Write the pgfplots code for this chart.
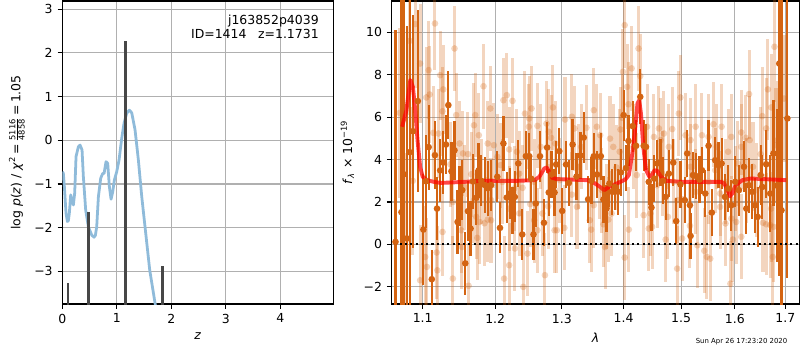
\documentclass[border=0pt]{standalone}
\usepackage{amsmath}
\usepackage{pgfplots}
\usepackage{pgfplotstable}
\pgfplotsset{compat=1.18}
\usepackage{fontspec}
\setmainfont{DejaVu Sans}
\definecolor{orD}{RGB}{212,100,18}
\definecolor{gridc}{RGB}{176,176,176}
\definecolor{blueL}{RGB}{143,187,218}

\pgfplotstableread{
l f e
1.0647 0.12 10
1.0723 1.52 10
1.0753 3.31 10
1.0796 0.28 10
1.0830 4.35 8
1.0872 5.34 5.5
1.0936 6.76 4.3
1.1009 0.70 2.6
1.1042 2.98 2.2
1.1079 4.59 2.0
1.1121 -1.64 1.4
1.1163 4.21 1.6
1.1191 1.69 1.5
1.1233 3.49 1.5
1.1274 3.86 1.5
1.1312 4.71 1.4
1.1344 6.57 1.6
1.1386 3.45 1.4
1.1428 4.44 1.4
1.1470 1.06 1.5
1.1498 2.29 1.4
1.1535 2.56 1.4
1.1577 -0.89 1.5
1.1614 1.57 1.4
1.1651 0.75 1.3
1.1684 2.97 1.3
1.1730 2.2 1.3
1.1763 3.49 1.3
1.1800 3.0 1.2
1.1851 2.8 1.3
1.1893 2.65 1.3
1.1940 2.8 1.2
1.2030 3.19 1.2
1.2069 0.78 1.2
1.2119 4.76 1.3
1.2168 2.21 1.2
1.2213 2.4 1.2
1.2250 1.6 1.1
1.2287 2.24 1.2
1.2337 3.82 1.1
1.2396 0.47 1.2
1.2450 4.16 1.2
1.2500 4.16 1.1
1.2530 3.1 1.1
1.2564 0.47 1.2
1.2599 1.93 1.1
1.2663 4.16 1.2
1.2723 1.02 1.1
1.2772 4.57 1.2
1.2797 2.45 1.1
1.2840 3.3 1.1
1.2886 2.45 1.1
1.2911 3.77 1.1
1.2960 4.4 1.1
1.3005 1.58 1.1
1.3065 3.77 1.1
1.3110 2.9 1.1
1.3168 4.71 1.2
1.3230 3.2 1.1
1.3292 4.19 1.1
1.3346 5.04 1.2
1.3416 2.13 1.1
1.3470 3.0 1.1
1.3508 4.16 1.1
1.3560 3.3 1.1
1.3622 4.16 1.1
1.3665 2.12 1.1
1.3715 1.7 1.1
1.3762 2.87 1.1
1.3811 2.48 1.1
1.3854 2.71 1.1
1.3908 2.48 1.1
1.3955 3.4 1.1
1.4000 6.1 1.2
1.4040 3.6 1.1
1.4082 4.88 1.2
1.4153 5.58 1.2
1.4212 4.65 1.2
1.4282 6.96 1.3
1.4341 4.65 1.2
1.4382 4.6 1.1
1.4429 2.95 1.1
1.4476 1.74 1.1
1.4525 3.1 1.1
1.4576 3.82 1.1
1.4635 3.86 1.1
1.4680 3.0 1.1
1.4724 2.24 1.1
1.4782 3.34 1.1
1.4859 3.86 1.1
1.4912 1.1 1.1
1.4988 2.83 1.1
1.5067 2.09 1.1
1.5110 4.29 1.1
1.5160 1.85 1.1
1.5172 0.4 1.1
1.5215 3.27 1.1
1.5276 3.22 1.1
1.5337 3.06 1.1
1.5380 3.5 1.1
1.5442 2.4 1.1
1.5503 4.65 1.2
1.5564 1.5 1.1
1.5626 3.97 1.1
1.5687 3.74 1.1
1.5748 3.82 1.2
1.5810 2.24 1.1
1.5871 2.64 1.1
1.5933 1.85 1.2
1.6007 2.95 1.2
1.6078 2.56 1.2
1.6176 3.66 1.2
1.6222 1.69 1.2
1.6275 2.79 1.3
1.6333 2.48 1.3
1.6392 1.85 1.3
1.6444 1.3 1.4
1.6503 3.27 1.4
1.6536 2.71 1.5
1.6614 3.78 1.6
1.6693 2.4 1.8
1.6758 4.29 2.5
1.6824 2.78 3.6
1.6876 8.53 10
1.6922 1.61 10
1.7041 5.94 7.5
}\dark

\pgfplotstableread{
l f e
1.0700 6.2 4.0
1.0760 0.3 4.0
1.0830 9.6 3.5
1.0870 3.0 3.5
1.0902 10.39 3.0
1.0966 8.53 2.8
1.0966 -1.69 2.6
1.1033 -0.59 2.4
1.1047 6.93 2.4
1.1056 -1.06 2.3
1.1079 8.22 2.3
1.1093 7.07 2.3
1.1140 5.26 2.2
1.1163 10.42 2.2
1.1186 -0.38 2.2
1.1195 -1.22 2.1
1.1209 5.23 2.1
1.1233 7.98 2.1
1.1265 6.28 2.1
1.1265 0.59 2.1
1.1274 7.31 2.1
1.1372 3.78 2.0
1.1405 -1.61 2.0
1.1405 2.0 2.0
1.1428 9.24 2.0
1.1451 6.1 2.0
1.1498 4.76 2.0
1.1521 0.67 2.0
1.1530 -0.12 2.0
1.1544 4.29 2.0
1.1567 2.7 2.0
1.1614 4.26 2.0
1.1623 -1.95 2.0
1.1660 3.31 2.0
1.1698 5.62 2.0
1.1698 2.09 2.0
1.1716 6.1 2.0
1.1730 1.3 2.0
1.1744 0.31 2.0
1.1767 5.15 2.0
1.1777 1.06 2.0
1.1800 2.95 2.0
1.1833 7.46 2.0
1.1847 1.0 2.0
1.1893 4.76 2.0
1.1893 1.17 2.0
1.1930 6.41 2.0
1.1940 1.14 2.0
1.1940 2.09 2.0
1.1981 4.68 2.0
1.2030 4.13 2.0
1.2079 3.74 2.0
1.2104 2.95 2.0
1.2119 6.8 2.0
1.2129 -1.61 2.0
1.2168 7.04 2.0
1.2203 4.48 2.0
1.2203 1.69 2.0
1.2203 -0.98 2.0
1.2252 6.77 2.0
1.2277 2.64 2.0
1.2287 -0.19 2.0
1.2317 4.37 2.0
1.2351 3.34 2.0
1.2351 1.46 2.0
1.2401 2.67 2.0
1.2411 -2.0 2.0
1.2436 6.17 2.0
1.2475 -0.43 2.0
1.2495 5.55 2.0
1.2500 5.94 2.0
1.2515 1.9 2.0
1.2535 6.41 2.0
1.2574 1.14 2.0
1.2574 2.95 2.0
1.2624 5.59 2.0
1.2624 0.67 2.0
1.2673 4.6 2.0
1.2698 1.46 2.0
1.2738 -1.45 2.0
1.2762 5.7 2.0
1.2787 1.8 2.0
1.2797 5.31 2.0
1.2832 5.03 2.0
1.2861 6.46 2.0
1.2886 0.67 2.0
1.2896 4.76 2.0
1.2921 0.67 2.0
1.2970 3.03 2.0
1.3038 0.78 2.0
1.3049 5.89 2.0
1.3157 6.02 2.0
1.3157 2.35 2.0
1.3200 5.47 2.0
1.3238 1.77 2.0
1.3265 3.66 2.0
1.3303 4.6 2.0
1.3389 5.5 2.0
1.3443 1.14 2.0
1.3465 0.7 2.0
1.3508 6.33 2.0
1.3508 1.85 2.0
1.3557 5.55 2.0
1.3600 3.19 2.0
1.3611 5.15 2.0
1.3638 2.56 2.0
1.3665 0.95 2.0
1.3692 -0.12 2.0
1.3708 1.77 2.0
1.3746 1.17 2.0
1.3773 4.99 2.0
1.3800 1.46 2.0
1.3827 4.6 2.0
1.3881 3.63 2.0
1.3935 4.37 2.0
1.3946 5.42 2.0
1.3978 5.97 2.0
1.3989 8.14 2.0
1.4018 10.34 2.0
1.4018 -0.62 2.0
1.4059 7.43 2.0
1.4082 6.61 2.0
1.4088 0.7 2.0
1.4135 8.3 2.0
1.4165 4.6 2.0
1.4224 3.27 2.0
1.4253 9.24 2.0
1.4282 7.94 2.0
1.4341 1.38 2.0
1.4400 5.55 2.0
1.4429 0.75 2.0
1.4459 1.46 2.0
1.4488 0.83 2.0
1.4518 5.07 2.0
1.4576 2.79 2.0
1.4606 5.47 2.0
1.4635 4.92 2.0
1.4665 3.34 2.0
1.4694 5.23 2.0
1.4724 0.23 2.0
1.4765 1.3 2.0
1.4782 4.6 2.0
1.4841 5.44 2.0
1.4871 2.95 2.0
1.4929 2.09 2.0
1.4929 -1.14 2.0
1.4959 6.17 2.0
1.4988 6.93 2.0
1.5018 0.28 2.0
1.5080 5.15 2.0
1.5160 0.88 2.0
1.5172 4.92 2.0
1.5172 3.66 2.0
1.5264 5.55 2.0
1.5264 2.48 2.0
1.5294 -0.04 2.0
1.5380 5.15 2.0
1.5423 -0.3 2.0
1.5472 -0.59 2.0
1.5503 5.07 2.0
1.5503 2.95 2.0
1.5534 -0.67 2.0
1.5595 5.67 2.0
1.5626 3.5 2.0
1.5656 4.6 2.0
1.5718 2.4 2.0
1.5718 1.77 2.0
1.5748 5.55 2.0
1.5822 0.99 2.0
1.5828 2.95 2.0
1.5871 4.37 2.0
1.5914 -1.85 2.0
1.5933 5.07 2.0
1.5933 1.22 2.0
1.5963 0.23 2.0
1.6013 2.64 2.0
1.6026 1.06 2.0
1.6059 3.82 2.0
1.6124 5.28 2.0
1.6124 4.6 2.0
1.6124 0.36 2.0
1.6209 5.03 2.0
1.6222 3.03 2.0
1.6275 7.09 2.1
1.6288 4.92 2.1
1.6353 3.66 2.1
1.6418 2.56 2.2
1.6503 4.26 2.2
1.6536 6.05 2.3
1.6549 1.02 2.3
1.6614 5.47 2.4
1.6614 0.95 2.4
1.6647 7.31 2.4
1.6693 0.91 2.5
1.6712 6.46 2.5
1.6712 1.69 2.5
1.6745 -0.59 2.5
1.6758 0.83 2.6
1.6778 9.32 2.6
1.6810 4.68 2.7
1.6843 4.92 2.8
1.6974 6.88 3.0
}\light

\pgfplotstableread{
l f
1.0732 5.55
1.0787 6.33
1.0838 7.75
1.0872 7.43
1.0902 6.33
1.0932 4.92
1.0966 3.66
1.1000 3.19
1.1056 3.03
1.1149 2.95
1.1242 2.90
1.1567 2.95
1.1800 3.00
1.2035 3.00
1.2332 3.00
1.2579 3.03
1.2653 3.19
1.2728 3.58
1.2767 3.63
1.2802 3.42
1.2851 3.14
1.2926 3.08
1.3135 3.06
1.3405 3.03
1.3514 2.90
1.3611 2.71
1.3676 2.56
1.3757 2.71
1.3946 2.95
1.4029 3.06
1.4088 3.27
1.4147 4.29
1.4188 5.23
1.4235 6.65
1.4265 6.80
1.4294 6.17
1.4335 4.60
1.4382 3.50
1.4441 3.19
1.4482 3.27
1.4529 3.50
1.4576 3.47
1.4647 3.19
1.4735 3.00
1.5000 2.95
1.5307 2.95
1.5736 2.95
1.5798 2.88
1.5859 2.56
1.5908 2.27
1.5951 2.40
1.6013 2.79
1.6144 3.03
1.6307 3.11
1.6569 3.08
1.7014 3.03
}\model

\pgfplotstableread{
z p
0.000 -0.72
0.018 -0.76
0.037 -1.06
0.067 -1.67
0.092 -1.86
0.110 -1.84
0.128 -1.67
0.153 -1.25
0.171 -1.37
0.202 -1.48
0.226 -1.21
0.251 -0.37
0.294 -0.15
0.324 -0.11
0.361 -0.22
0.385 -0.83
0.428 -1.60
0.477 -1.98
0.538 -2.17
0.580 -2.22
0.605 -2.18
0.630 -1.98
0.661 -1.29
0.703 -0.87
0.740 -0.76
0.765 -0.76
0.801 -0.49
0.832 -0.53
0.862 -1.06
0.893 -1.35
0.924 -1.18
0.954 -0.91
0.997 -0.72
1.040 -0.45
1.089 0.05
1.131 0.39
1.180 0.62
1.229 0.69
1.272 0.63
1.333 0.24
1.394 -0.45
1.456 -1.29
1.529 -2.13
1.602 -2.97
1.700 -3.73
1.710 -3.80
}\pz

\begin{document}
\begin{tikzpicture}[x=1bp,y=1bp]
\useasboundingbox (0,0) rectangle (576,252);
\pgfplotsset{
  every axis/.append style={
    scale only axis,
    anchor=south west,
    axis line style={line width=0.8bp},
    tick style={line width=0.8bp, black},
    tick align=outside,
    major tick length=3.5bp,
    grid=major,
    major grid style={line width=0.8bp, gridc},
    ticklabel style={font=\fontsize{9}{10.8}\selectfont},
    label style={font=\fontsize{9}{10.8}\selectfont},
    xtick pos=bottom, ytick pos=left,
    clip=true,
  }
}
% left panel
\begin{axis}[
  at={(44.9bp,33.1bp)}, width=195.1bp, height=218.2bp,
  xmin=0, xmax=4.97, ymin=-3.75, ymax=3.19,
  xtick={0,1,2,3,4}, xticklabels={0,1,2,3,4},
  ytick={-3,-2,-1,0,1,2,3}, yticklabels={−3,−2,−1,0,1,2,3},
  xlabel={\textit{z}},
  ylabel={log \textit{p}(\textit{z}) / \textit{χ}\textsuperscript{2}\,=\,$\frac{\text{5116}}{\text{4858}}$\,=\,1.05},
]
\addplot[blueL, line width=2bp, line join=round] table[x=z, y=p] {\pz};
\addplot[black!72, line width=1.7bp] coordinates {(0.098,-4) (0.098,-3.27)};
\addplot[black!72, line width=1.7bp] coordinates {(0.477,-4) (0.477,-1.65)};
\addplot[black!72, line width=2.3bp] coordinates {(1.163,-4) (1.163,2.28)};
\addplot[black!72, line width=1.7bp] coordinates {(1.835,-4) (1.835,-2.87)};
\node[anchor=north east, align=right, inner sep=0pt, font=\fontsize{9}{10.8}\selectfont]
  at (rel axis cs:0.947,0.956) {j163852p4039\\ID=1414\hspace{8.4bp}z=1.1731};
\end{axis}
% right panel
\begin{axis}[
  at={(282.0bp,33.1bp)}, width=293.5bp, height=218.2bp,
  xmode=log, xmin=1.0598, xmax=1.7288, ymin=-2.81, ymax=11.48,
  xtick={1.1,1.2,1.3,1.4,1.5,1.6,1.7}, xticklabels={1.1,1.2,1.3,1.4,1.5,1.6,1.7},
  minor xtick={},
  ytick={-2,0,2,4,6,8,10}, yticklabels={−2,0,2,4,6,8,10},
  xlabel={\textit{λ}},
  ylabel={\textit{f}\textsubscript{\textit{λ}} × 10\textsuperscript{−19}},
]
\addplot[only marks, mark=*, mark size=2.4bp, color=orD,
  mark options={fill opacity=0.27, draw opacity=0},
  error bars/.cd, y dir=both, y explicit, error mark=none,
  error bar style={line width=2.2bp, opacity=0.27}]
  table[x=l, y=f, y error=e] {\light};
\addplot[only marks, mark=*, mark size=2.4bp, color=orD,
  mark options={draw opacity=0},
  error bars/.cd, y dir=both, y explicit, error mark=none,
  error bar style={line width=1.6bp}]
  table[x=l, y=f, y error=e] {\dark};
\addplot[red, opacity=0.72, line width=2.8bp, line join=round] table[x=l, y=f] {\model};
\addplot[black, line width=1.5bp, dash pattern=on 1.5bp off 2.3bp] coordinates {(1.05,0) (1.74,0)};
\end{axis}
\node[anchor=south east, inner sep=0pt, font=\fontsize{5}{6}\selectfont] at (567,3.6) {Sun Apr 26 17:23:20 2020};
\end{tikzpicture}
\end{document}
